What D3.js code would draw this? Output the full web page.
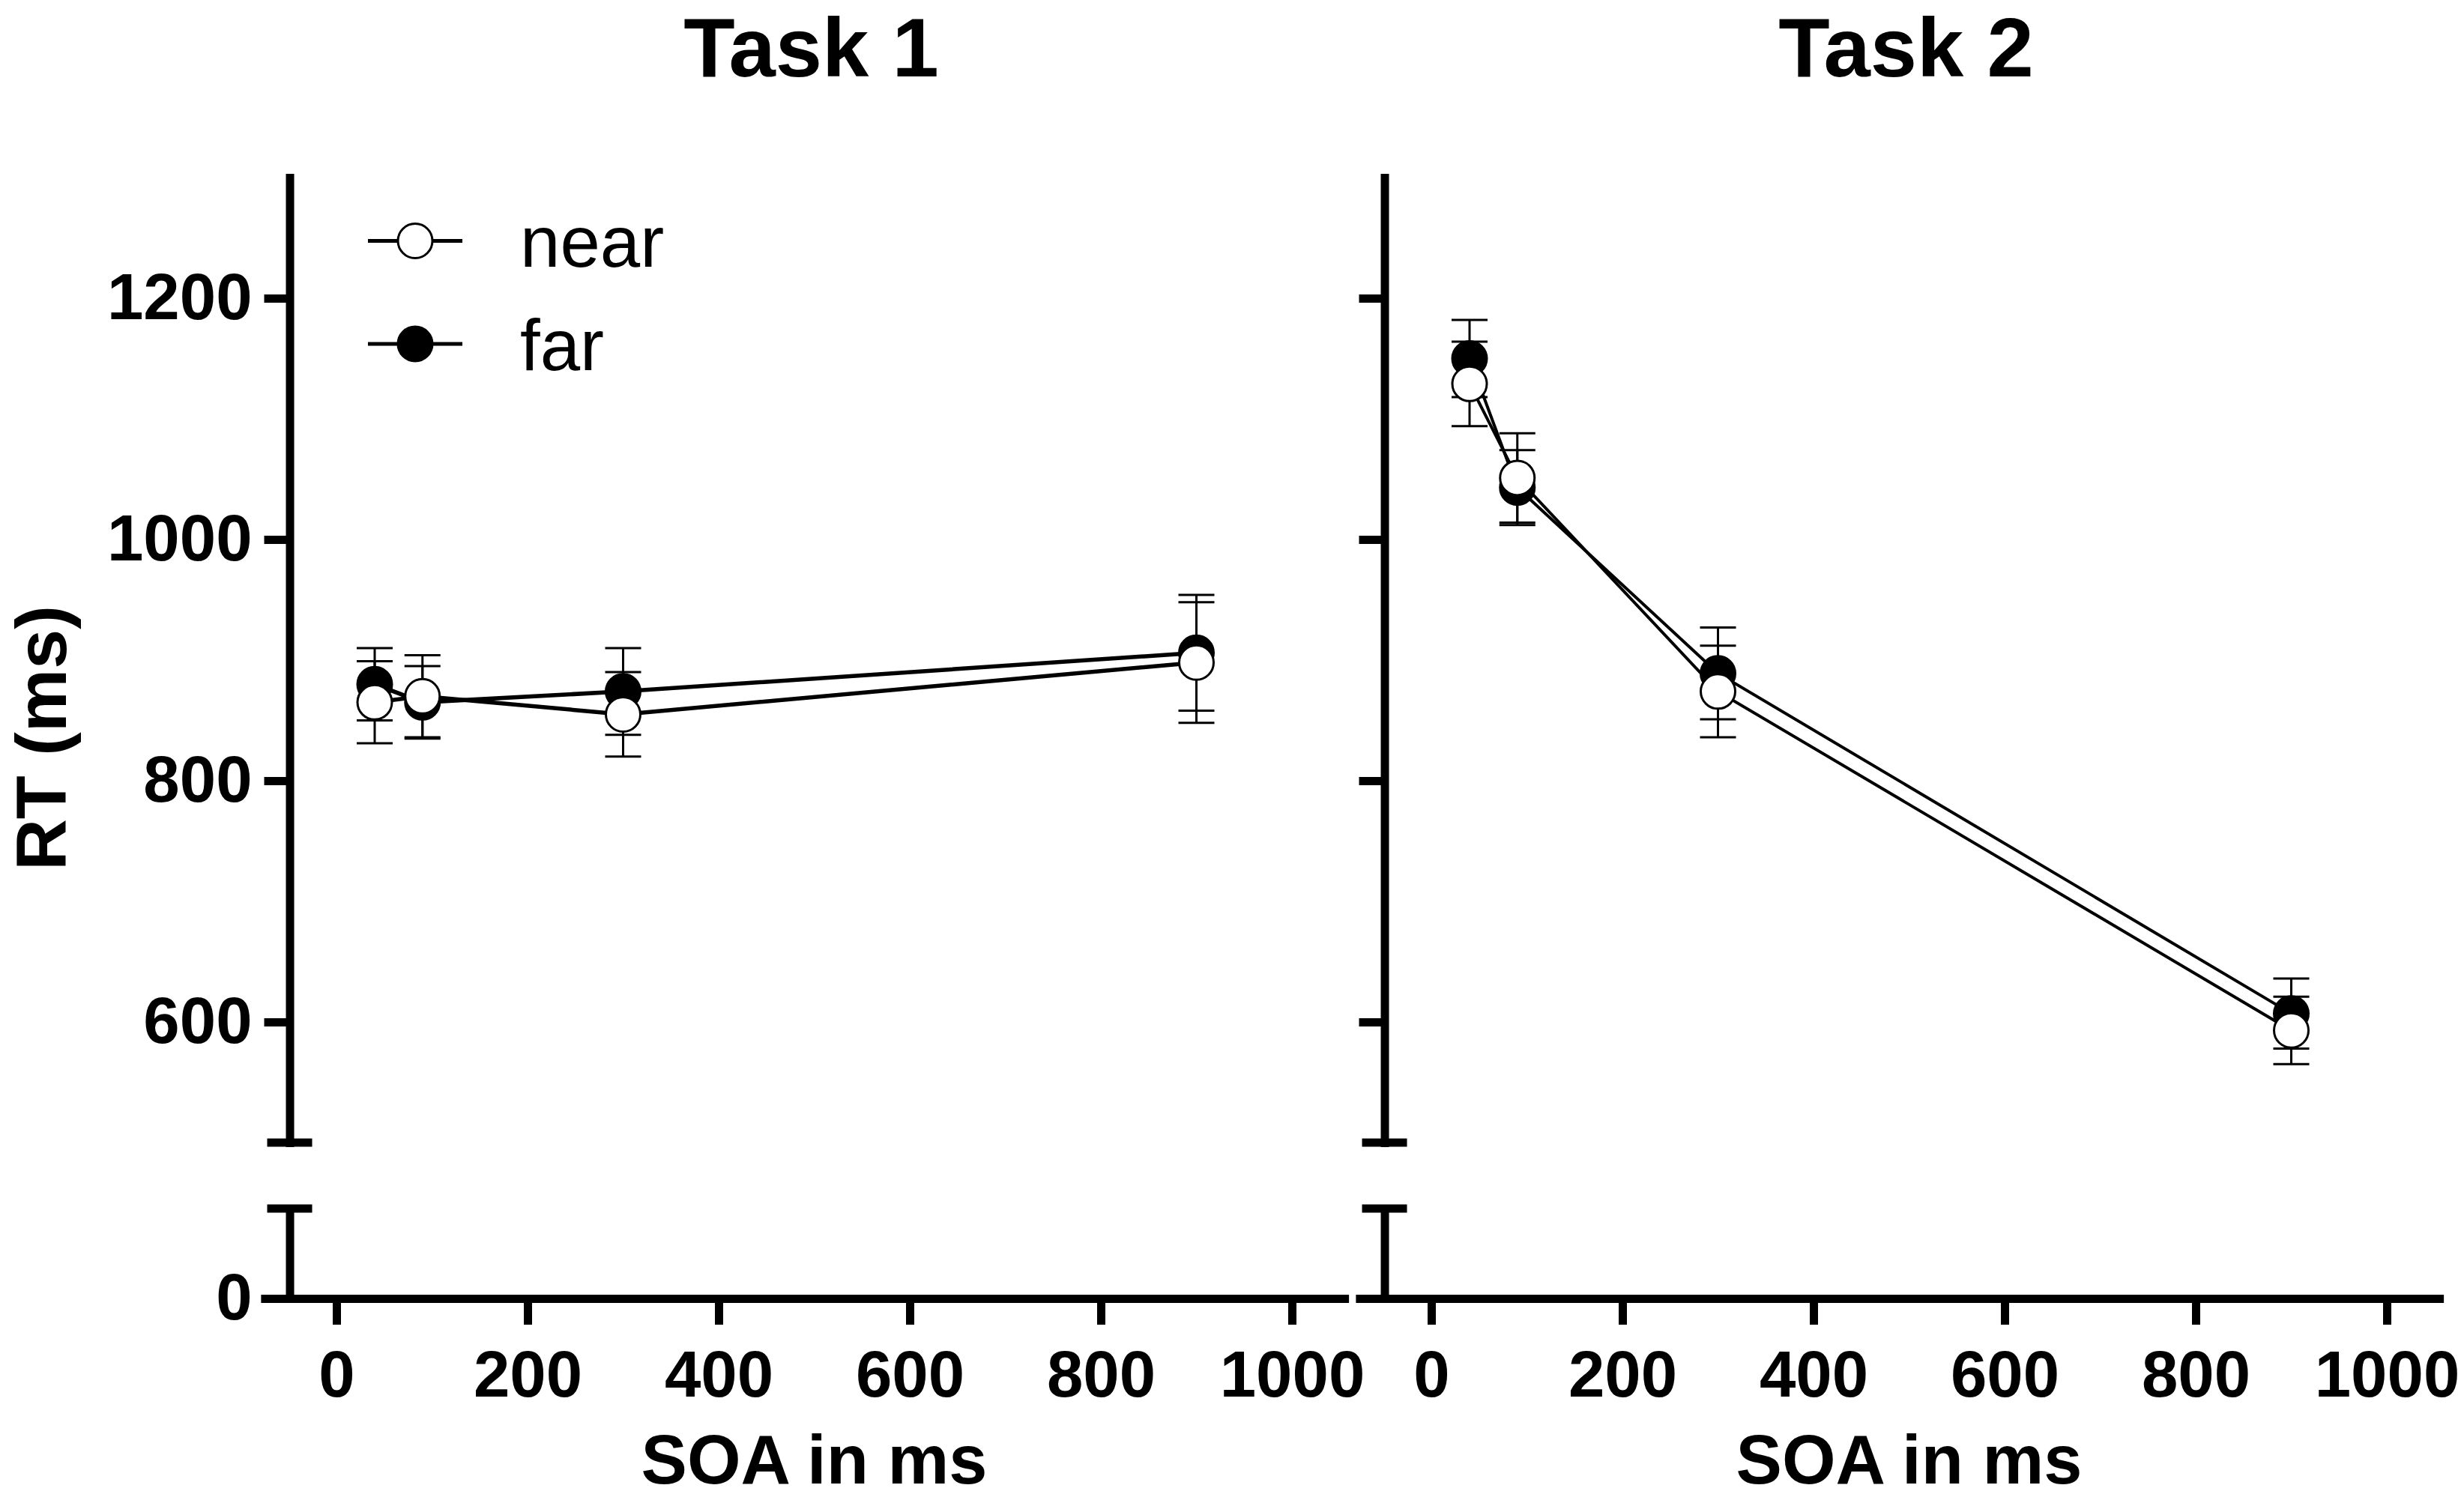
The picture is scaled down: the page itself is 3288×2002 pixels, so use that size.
<!DOCTYPE html>
<html>
<head>
<meta charset="utf-8">
<script src="https://cdn.jsdelivr.net/npm/d3@7"></script>
<style>
	body { margin: 0; background: #fff; }
	svg { display: block; font-family: "Liberation Sans", Arial, sans-serif; }
</style>
</head>
<body>
<div id="chart"></div>
<script>
// SOA levels (ms) and axis ticks
const soa = [40, 90, 300, 900];
const xTicks = [0, 200, 400, 600, 800, 1000];
const yTicks = [600, 800, 1000, 1200];

// mean RT and SE per SOA
const task1Near = [865, 870, 855, 898];
const task1NearSE = [34, 34, 35, 50];
const task1Far = [880, 865, 874, 906];
const task1FarSE = [30, 30, 36, 48];

const task2Near = [1129, 1051, 874, 593];
const task2NearSE = [35, 37, 38, 28];
const task2Far = [1150, 1043, 889, 607];
const task2FarSE = [32, 31, 38, 29];

const panelTitles = ["Task 1", "Task 2"];
const seriesNames = ["near", "far"];

const width = 3288, height = 2002;
const pxPerMs = 1.275;
const font = '"Liberation Sans", Arial, sans-serif';
const fmt = d3.format("d");

const svg = d3.select("#chart").append("svg")
	.attr("width", width)
	.attr("height", height);

// y scales: upper segment and the small segment near 0 (broken axis)
const yUpper = d3.scaleLinear().domain([500, 1300]).range([1525, 237]);
const yLower = d3.scaleLinear().domain([0, 75]).range([1733, 1613]);

function toSeries(vals, ses) {
	return soa.map((s, i) => ({ soa: s, v: vals[i], se: ses[i] }));
}

const panels = [
	{ zeroX: 449, title: panelTitles[0], showYLabels: true, showLegend: true, lineWidth: 5.5,
	  near: toSeries(task1Near, task1NearSE), far: toSeries(task1Far, task1FarSE) },
	{ zeroX: 1910, title: panelTitles[1], showYLabels: false, showLegend: false, lineWidth: 4,
	  near: toSeries(task2Near, task2NearSE), far: toSeries(task2Far, task2FarSE) }
];

function styleAxis(g, size) {
	g.attr("font-family", font).attr("font-size", size).attr("font-weight", "bold");
	g.select(".domain").attr("stroke-width", 11).attr("stroke-linecap", "square");
	g.selectAll(".tick line").attr("stroke-width", 11);
	g.selectAll(".tick text").attr("fill", "#000");
}

panels.forEach(p => {
	const x = d3.scaleLinear()
		.domain([-75, 1055])
		.range([p.zeroX - 75 * pxPerMs, p.zeroX + 1055 * pxPerMs]);
	const axisX = x(-49);

	const g = svg.append("g");

	// x axis
	g.append("g")
		.attr("transform", "translate(0," + yLower(0) + ")")
		.call(d3.axisBottom(x).tickValues(xTicks).tickFormat(fmt)
			.tickSize(35).tickSizeOuter(0).tickPadding(34))
		.call(a => styleAxis(a, 87));

	// y axis, upper segment
	const yAxisUp = d3.axisLeft(yUpper).tickValues(yTicks).tickFormat(p.showYLabels ? fmt : "")
		.tickSize(34).tickSizeOuter(0).tickPadding(16);
	g.append("g")
		.attr("transform", "translate(" + axisX + ",0)")
		.call(yAxisUp)
		.call(a => styleAxis(a, 87));

	// y axis, lower segment
	const yAxisLow = d3.axisLeft(yLower).tickValues([0]).tickFormat(p.showYLabels ? fmt : "")
		.tickSize(34).tickSizeOuter(0).tickPadding(16);
	g.append("g")
		.attr("transform", "translate(" + axisX + ",0)")
		.call(yAxisLow)
		.call(a => styleAxis(a, 87));

	// break caps
	[yUpper(500), yLower(75)].forEach(cy => {
		g.append("line")
			.attr("x1", axisX - 30).attr("x2", axisX + 30)
			.attr("y1", cy).attr("y2", cy)
			.attr("stroke", "#000").attr("stroke-width", 11);
	});

	const line = d3.line().x(d => x(d.soa)).y(d => yUpper(d.v));

	// far drawn first, near on top
	[["far", p.far, "#000"], ["near", p.near, "#fff"]].forEach(([name, data, fill]) => {
		const s = g.append("g").attr("class", "series-" + name);

		const eb = s.selectAll(".eb").data(data).enter().append("g").attr("class", "eb");
		eb.append("line")
			.attr("x1", d => x(d.soa)).attr("x2", d => x(d.soa))
			.attr("y1", d => yUpper(d.v - d.se)).attr("y2", d => yUpper(d.v + d.se));
		eb.append("line")
			.attr("x1", d => x(d.soa) - 24).attr("x2", d => x(d.soa) + 24)
			.attr("y1", d => yUpper(d.v + d.se)).attr("y2", d => yUpper(d.v + d.se));
		eb.append("line")
			.attr("x1", d => x(d.soa) - 24).attr("x2", d => x(d.soa) + 24)
			.attr("y1", d => yUpper(d.v - d.se)).attr("y2", d => yUpper(d.v - d.se));
		eb.selectAll("line").attr("stroke", "#000").attr("stroke-width", 3);

		s.append("path")
			.datum(data)
			.attr("d", line)
			.attr("fill", "none")
			.attr("stroke", "#000")
			.attr("stroke-width", p.lineWidth);

		s.selectAll("circle").data(data).enter().append("circle")
			.attr("cx", d => x(d.soa))
			.attr("cy", d => yUpper(d.v))
			.attr("r", 23)
			.attr("fill", fill)
			.attr("stroke", "#000")
			.attr("stroke-width", 3);
	});

	// panel title
	g.append("text")
		.attr("x", x(500) - 4)
		.attr("y", 102)
		.attr("text-anchor", "middle")
		.attr("font-size", 112)
		.attr("font-weight", "bold")
		.text(p.title);

	// x axis title
	g.append("text")
		.attr("x", x(500))
		.attr("y", 1980)
		.attr("text-anchor", "middle")
		.attr("font-size", 92)
		.attr("font-weight", "bold")
		.text("SOA in ms");

	if (p.showLegend) {
		const rows = [[seriesNames[0], "#fff", 321.5], [seriesNames[1], "#000", 459]];
		rows.forEach(([label, fill, ry]) => {
			const lg = g.append("g").attr("class", "legend");
			lg.append("line")
				.attr("x1", 491).attr("x2", 617)
				.attr("y1", ry).attr("y2", ry)
				.attr("stroke", "#000").attr("stroke-width", 5);
			lg.append("circle")
				.attr("cx", 554).attr("cy", ry).attr("r", 23)
				.attr("fill", fill).attr("stroke", "#000").attr("stroke-width", 3);
			lg.append("text")
				.attr("x", 694).attr("y", ry + 34.5)
				.attr("font-size", 96)
				.text(label);
		});
	}
});

// y axis title
svg.append("text")
	.attr("transform", "translate(88,985) rotate(-90)")
	.attr("text-anchor", "middle")
	.attr("font-size", 95)
	.attr("font-weight", "bold")
	.text("RT (ms)");
</script>
</body>
</html>
